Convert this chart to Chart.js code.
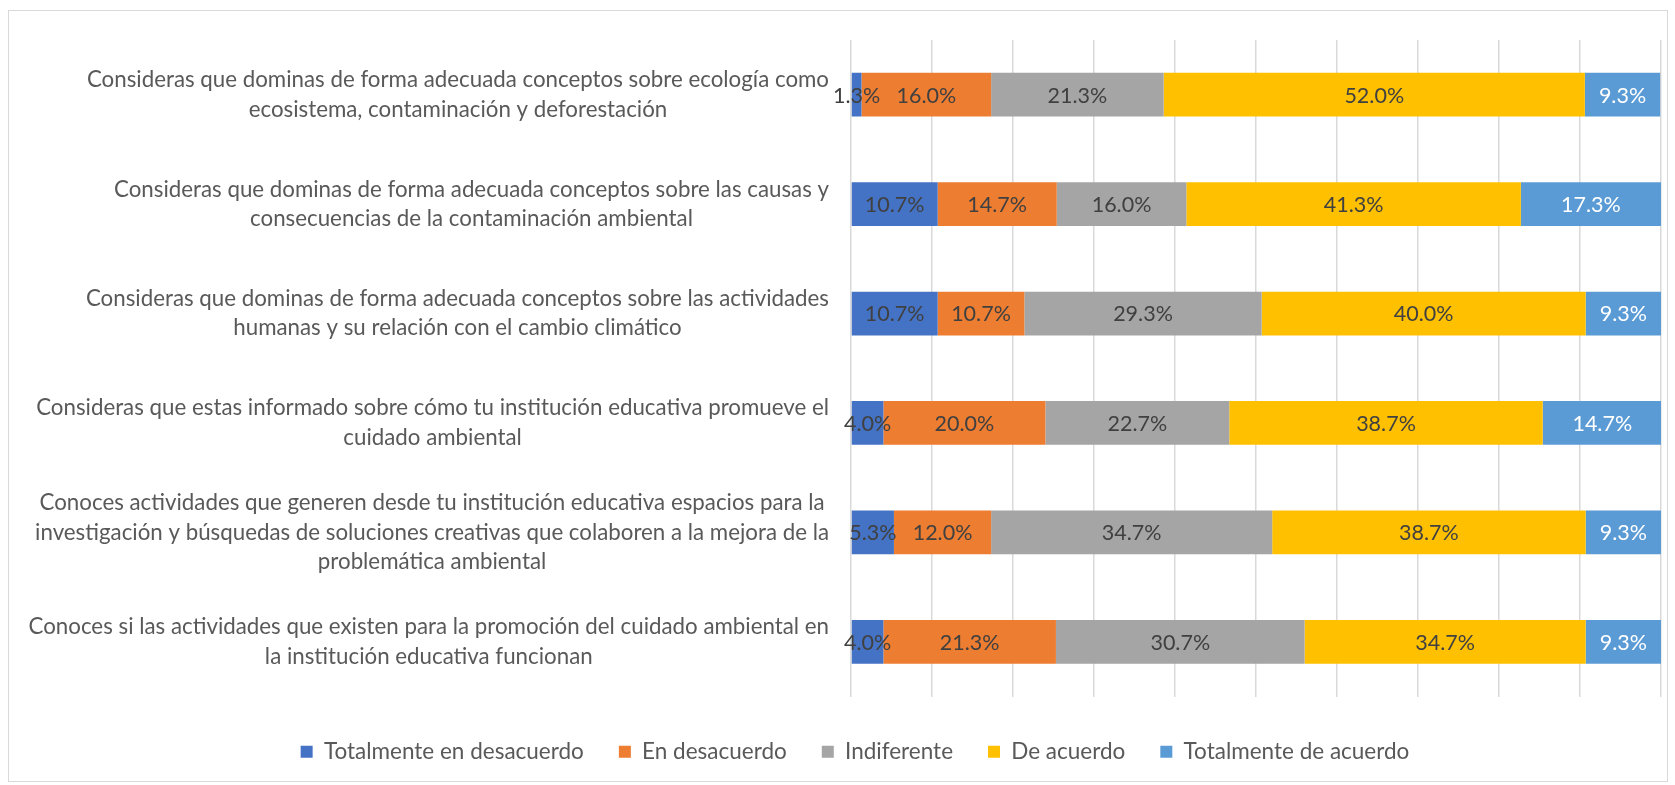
<!DOCTYPE html>
<html>
<head>
<meta charset="utf-8">
<script src="https://cdn.jsdelivr.net/npm/chart.js@4.4.1/dist/chart.umd.min.js"></script>
<style>
    body { margin: 0; background: #ffffff; }
    #wrap {
        position: absolute;
        left: 8px;
        top: 10px;
        width: 1660px;
        height: 772px;
        border: 1px solid #d9d9d9;
        box-sizing: border-box;
    }
</style>
</head>
<body>
<div id="wrap"><canvas id="likertChart"></canvas></div>
<script>
// Category labels (already wrapped like the original)
const questions = [
    ["Consideras que dominas de forma adecuada conceptos sobre ecología como", "ecosistema, contaminación y deforestación"],
    ["Consideras que dominas de forma adecuada conceptos sobre las causas y", "consecuencias de la contaminación ambiental"],
    ["Consideras que dominas de forma adecuada conceptos sobre las actividades", "humanas y su relación con el cambio climático"],
    ["Consideras que estas informado sobre cómo tu institución educativa promueve el", "cuidado ambiental"],
    ["Conoces actividades que generen desde tu institución educativa espacios para la", "investigación y búsquedas de soluciones creativas que colaboren a la mejora de la", "problemática ambiental"],
    ["Conoces si las actividades que existen para la promoción del cuidado ambiental en", "la institución educativa funcionan"]
];

const seriesNames = ["Totalmente en desacuerdo", "En desacuerdo", "Indiferente", "De acuerdo", "Totalmente de acuerdo"];

// Percentages per answer option, one entry per question
const totDesacuerdo = [1.3, 10.7, 10.7, 4.0, 5.3, 4.0];
const enDesacuerdo = [16.0, 14.7, 10.7, 20.0, 12.0, 21.3];
const indiferente = [21.3, 16.0, 29.3, 22.7, 34.7, 30.7];
const deAcuerdo = [52.0, 41.3, 40.0, 38.7, 38.7, 34.7];
const totAcuerdo = [9.3, 17.3, 9.3, 14.7, 9.3, 9.3];

const seriesColors = ["#4472C4", "#ED7D31", "#A5A5A5", "#FFC000", "#5B9BD5"];
const labelColors = ["#404040", "#404040", "#404040", "#404040", "#ffffff"];

const FONT = "Lato, 'Open Sans', sans-serif";

// Draws the value label in the middle of every bar segment
const valueLabels = {
    id: "valueLabels",
    afterDatasetsDraw(chart) {
        const ctx = chart.ctx;
        ctx.save();
        ctx.font = "21.5px " + FONT;
        ctx.textAlign = "center";
        ctx.textBaseline = "middle";
        chart.data.datasets.forEach((ds, i) => {
            const meta = chart.getDatasetMeta(i);
            meta.data.forEach((bar, j) => {
                const cx = (bar.x + bar.base) / 2;
                ctx.fillStyle = labelColors[i];
                ctx.fillText(ds.data[j].toFixed(1) + "%", cx, bar.y + 1);
            });
        });
        ctx.restore();
    }
};

// Category labels: block right aligned, lines centred inside the block (Excel style)
const categoryLabels = {
    id: "categoryLabels",
    afterLayout(chart) {
        // the original legend sits a little right of centre and lower
        if (chart.legend) {
            chart.legend.left += 20;
            chart.legend.right += 20;
            chart.legend.top += 9;
            chart.legend.bottom += 9;
        }
    },
    afterDraw(chart) {
        const ctx = chart.ctx;
        const yScale = chart.scales.y;
        const rightEdge = chart.chartArea.left - 22;
        const lineHeight = 29.5;
        ctx.save();
        ctx.font = "22.3px " + FONT;
        ctx.fillStyle = "#595959";
        ctx.textAlign = "center";
        ctx.textBaseline = "middle";
        questions.forEach((lines, i) => {
            const w = Math.max(...lines.map(l => ctx.measureText(l).width));
            const cx = rightEdge - w / 2;
            const cy = yScale.getPixelForTick(i);
            const top = cy - (lines.length - 1) * lineHeight / 2;
            lines.forEach((l, k) => ctx.fillText(l, cx, top + k * lineHeight));
        });
        ctx.restore();
    }
};

const ctx = document.getElementById("likertChart").getContext("2d");
const allSeries = [totDesacuerdo, enDesacuerdo, indiferente, deAcuerdo, totAcuerdo];

new Chart(ctx, {
    type: "bar",
    data: {
        labels: questions,
        datasets: allSeries.map((values, i) => ({
            label: seriesNames[i],
            data: values,
            backgroundColor: seriesColors[i],
            borderWidth: 0,
            barPercentage: 0.4,
            categoryPercentage: 1.0
        }))
    },
    options: {
        indexAxis: "y",
        responsive: true,
        maintainAspectRatio: false,
        animation: false,
        layout: {
            padding: { top: 29, right: 6, bottom: 17, left: 0 }
        },
        scales: {
            x: {
                stacked: true,
                min: 0,
                max: 100,
                ticks: { display: false, stepSize: 10 },
                grid: { color: "#d9d9d9", lineWidth: 1.5, drawTicks: false },
                border: { display: false }
            },
            y: {
                stacked: true,
                ticks: { display: false },
                grid: { display: false },
                border: { display: false },
                afterFit(scale) { scale.width = 842; }
            }
        },
        plugins: {
            legend: {
                position: "bottom",
                labels: {
                    boxWidth: 12,
                    boxHeight: 12,
                    padding: 35,
                    color: "#595959",
                    font: { family: FONT, size: 22.5 }
                }
            },
            tooltip: { enabled: false }
        }
    },
    plugins: [valueLabels, categoryLabels]
});
</script>
</body>
</html>
